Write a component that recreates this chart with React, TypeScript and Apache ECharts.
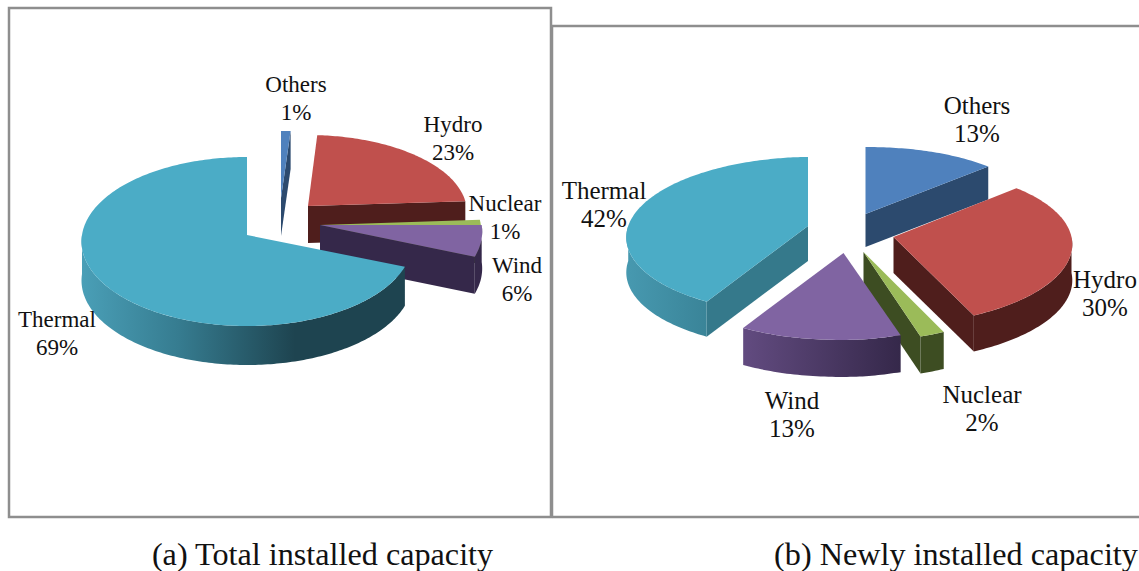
import React, { useEffect, useRef } from "react";
import * as echarts from "echarts";

const categories = ["Others", "Hydro", "Nuclear", "Wind", "Thermal"];
const totalCapacity = [1, 23, 1, 6, 69];
const newCapacity = [13, 30, 2, 13, 42];
const captions = ["(a) Total installed capacity", "(b) Newly installed capacity"];

const topColors = ["#4F81BD", "#C0504D", "#9BBB59", "#8064A2", "#4BACC6"];
const wallColors = ["#2C4A6E", "#4F1E1C", "#3D4D22", "#35284A", "#35798B"];
const arcStopsA = [
  [[0, "#2C4A6E"], [1, "#2C4A6E"]],
  [[0, "#4F1E1C"], [1, "#4F1E1C"]],
  [[0, "#3D4D22"], [1, "#3D4D22"]],
  [[0, "#35284A"], [1, "#35284A"]],
  [[0, "#4A9FB7"], [0.3, "#367C90"], [0.66, "#1E4450"], [1, "#1E4450"]],
];
const arcStopsB = [
  [[0, "#2C4A6E"], [1, "#2C4A6E"]],
  [[0, "#4F1E1C"], [1, "#4F1E1C"]],
  [[0, "#3D4D22"], [1, "#3D4D22"]],
  [[0, "#624B80"], [1, "#35284A"]],
  [[0, "#4799B0"], [1, "#3A8498"]],
];

// each offset: [dx, dy, scaleY, scaleX, wall depth]
const pieA = {
  cx: 247, cy: 235, rx: 165, ry: 84, k: 0.077, shear: 0, font: 23,
  offsets: [[34, -37, 0.86, 1, 38], [61, -29, 0.91, 0.96, 37], [73, -10, 1, 0.975, 38], [73, -10, 1, 0.98, 37], [0, 0, 1, 1, 39]],
  labels: [[296, 98], [453, 138], [505, 217], [517, 279], [57, 333]],
  stops: arcStopsA,
};
const pieB = {
  cx: 865.5, cy: 214, rx: 178, ry: 75, k: 0.12, shear: 0.06, font: 25,
  offsets: [[0, 0, 1, 1, 33], [28, 23, 1.03, 1, 36], [-2, 38, 1.05, 1, 37], [-22, 39, 1.02, 1, 37], [-57.5, 12, 1.03, 1.01, 35]],
  labels: [[977, 119], [1105, 293], [982, 408], [792, 414], [604, 204]],
  stops: arcStopsB,
};

function makeRenderItem(values: number[], pie: any) {
  const total = values.reduce((s, v) => s + v, 0);
  return (params: any, api: any) => {
    const i = params.dataIndex;
    const before = values.slice(0, i).reduce((s, v) => s + v, 0);
    const a0 = (before / total) * 360;
    const a1 = ((before + api.value(0)) / total) * 360;
    const [dx, dy, sy, sx, depth] = pie.offsets[i];
    const tx = pie.cx + dx;
    const ty = pie.cy + dy;
    const pt = (deg: number) => {
      const t = (deg * Math.PI) / 180;
      const u = Math.sin(t);
      const v = Math.cos(t);
      const s = 1 / (1 + pie.k * v);
      const oy = -pie.ry * v * s * sy;
      const lean = pie.shear * oy * Math.min(1, Math.abs(u) * 4);
      return [tx + pie.rx * u * s * sx - lean, ty + oy];
    };
    const down = (p: number[]) => [p[0], p[1] + depth];
    const arc = (from: number, to: number) => {
      const out: number[][] = [];
      const n = Math.max(2, Math.ceil(Math.abs(to - from)));
      for (let j = 0; j <= n; j++) out.push(pt(from + ((to - from) * j) / n));
      return out;
    };
    const children: any[] = [];
    const tip = [tx, ty];
    const radialWall = (deg: number) => {
      const p = pt(deg);
      children.push({
        type: "polygon",
        shape: { points: [tip, p, down(p), down(tip)] },
        style: { fill: wallColors[i] },
      });
    };
    if (Math.sin((a0 * Math.PI) / 180) < -0.001) radialWall(a0);
    if (Math.sin((a1 * Math.PI) / 180) > 0.001) radialWall(a1);
    const lo = Math.max(a0, 90);
    const hi = Math.min(a1, 270);
    if (hi > lo) {
      const edge = arc(lo, hi);
      children.push({
        type: "polygon",
        shape: { points: [...edge, ...edge.slice().reverse().map(down)] },
        style: {
          fill: new echarts.graphic.LinearGradient(
            0, 0, 1, 0,
            pie.stops[i].map(([offset, color]: any) => ({ offset, color }))
          ),
        },
      });
    }
    children.push({
      type: "polygon",
      shape: { points: [tip, ...arc(a0, a1)] },
      style: { fill: topColors[i] },
    });
    const [lx, ly] = pie.labels[i];
    children.push({
      type: "text",
      style: {
        x: lx,
        y: ly,
        text: `${categories[i]}\n${api.value(0)}%`,
        font: `${pie.font}px "Liberation Serif", serif`,
        fill: "#111111",
        textAlign: "center",
        textVerticalAlign: "middle",
        lineHeight: 28,
      },
    });
    return { type: "group", children };
  };
}

export default function App() {
  const ref = useRef<HTMLDivElement>(null);
  useEffect(() => {
    const chart = echarts.init(ref.current as HTMLDivElement, undefined, { renderer: "svg" });
    const frame = { stroke: "#8E8E8E", lineWidth: 2.5 };
    chart.setOption({
      animation: false,
      backgroundColor: "#ffffff",
      graphic: [
        { type: "rect", shape: { x: 9, y: 8, width: 542, height: 509 }, style: { fill: "none", ...frame } },
        { type: "polyline", shape: { points: [[552, 517], [552, 26], [1139, 26]] }, style: { fill: "none", ...frame } },
        { type: "line", shape: { x1: 552, y1: 517, x2: 1139, y2: 517 }, style: frame },
        {
          type: "text",
          style: { x: 322.5, y: 554, text: captions[0], font: '32.2px "Liberation Serif", serif', fill: "#111111", textAlign: "center", textVerticalAlign: "middle" },
        },
        {
          type: "text",
          style: { x: 956, y: 554, text: captions[1], font: '32.2px "Liberation Serif", serif', fill: "#111111", textAlign: "center", textVerticalAlign: "middle" },
        },
      ],
      series: [
        { type: "custom", coordinateSystem: "none", data: totalCapacity.map((v) => [v]), renderItem: makeRenderItem(totalCapacity, pieA), silent: true, clip: false },
        { type: "custom", coordinateSystem: "none", data: newCapacity.map((v) => [v]), renderItem: makeRenderItem(newCapacity, pieB), silent: true, clip: false },
      ],
    });
    return () => chart.dispose();
  }, []);
  return <div ref={ref} style={{ position: "fixed", left: 0, top: 0, width: 1139, height: 571 }} />;
}
